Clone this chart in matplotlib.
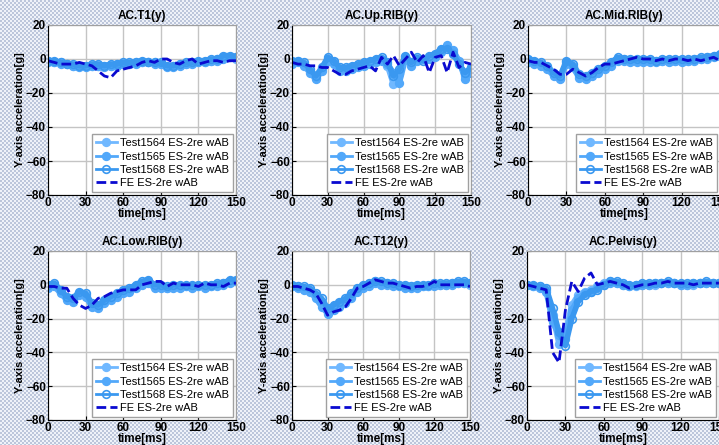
import numpy as np
import matplotlib
matplotlib.use('Agg')
from matplotlib import pyplot as plt

plt.rcParams['font.family'] = ['Liberation Sans', 'DejaVu Sans']

# tiempo en ms
t = list(range(0, 151, 5))

titles = ['AC.T1(y)', 'AC.Up.RIB(y)', 'AC.Mid.RIB(y)',
          'AC.Low.RIB(y)', 'AC.T12(y)', 'AC.Pelvis(y)']
labels = ['Test1564 ES-2re wAB', 'Test1565 ES-2re wAB',
          'Test1568 ES-2re wAB', 'FE ES-2re wAB']
xticks = [0, 30, 60, 90, 120, 150]
yticks = [-80, -60, -40, -20, 0, 20]

# AC.T1
t1_1564 = [-1, -2, -2, -3, -4, -4, -4, -4, -4, -4, -4, -3, -3, -3, -2, -2, -2, -2, -3, -4, -4, -3, -3, -2, -2, -2, -1, 0, 1, 1, 0]
t1_1565 = [-2, -2, -3, -3, -4, -5, -5, -4, -4, -5, -4, -4, -3, -3, -3, -2, -2, -3, -3, -5, -5, -4, -3, -3, -2, -2, -1, -1, 0, 1, 1]
t1_1568 = [-1, -1, -2, -3, -3, -4, -4, -3, -3, -4, -3, -3, -2, -2, -2, -1, -2, -2, -2, -4, -4, -3, -2, -2, -1, -1, 0, 0, 2, 2, 1]
t1_fe = [-1, -2, -3, -3, -3, -2, -3, -4, -7, -10, -11, -7, -6, -5, -4, -2, -1, -2, 0, 0, -2, -3, -1, 0, -3, -2, -1, -1, -2, -1, -1]

# AC.Up.RIB
up_1564 = [-2, -1, -3, -7, -11, -6, 0, -2, -6, -6, -5, -4, -3, -2, -1, 0, -4, -15, -9, 1, -3, 0, 0, 1, 2, 5, 7, 4, -2, -10, -6]
up_1565 = [-3, -2, -4, -8, -12, -7, -1, -3, -7, -7, -6, -5, -4, -3, -2, -1, -3, -8, -14, 0, -4, -1, 0, 0, 1, 4, 8, 5, -1, -12, -8]
up_1568 = [-1, -1, -2, -6, -10, -5, 1, -1, -5, -5, -4, -3, -2, -1, 0, 1, -2, -10, -6, 2, -2, 1, -1, 2, 3, 6, 6, 3, -3, -8, -5]
up_fe = [-2, -3, -3, -4, -4, -5, -5, -7, -9, -9, -7, -6, -5, -4, -7, 1, -3, 2, -4, 0, 4, -2, 2, -8, 1, 2, -8, 4, -5, -2, -3]

# AC.Mid.RIB
mid_1564 = [-1, -2, -3, -5, -9, -11, -2, -4, -10, -11, -9, -7, -5, -3, 0, 0, -1, -1, -1, -1, -1, -1, -1, -1, -1, -1, 0, 0, 1, 2, 2]
mid_1565 = [-2, -3, -4, -6, -10, -12, -3, -5, -11, -12, -10, -8, -6, -4, -1, -1, -2, -2, -2, -2, -2, -1, -2, -1, -2, -1, -1, 0, 0, 1, 2]
mid_1568 = [0, -1, -2, -4, -8, -10, -1, -3, -9, -10, -8, -6, -4, -2, 1, 0, 0, 0, 0, 0, -1, 0, 0, 0, 0, 0, 0, 1, 1, 2, 3]
mid_fe = [-1, -2, -2, -4, -6, -9, -9, -6, -8, -10, -8, -5, -3, -3, -2, -1, 0, 1, 0, 0, -1, 0, -1, 0, 0, -1, 0, -1, 0, 1, -1]

# AC.Low.RIB
low_1564 = [-1, 0, -4, -8, -9, -5, -6, -12, -13, -10, -8, -6, -4, -3, -1, 1, 2, -1, -1, -2, -1, -1, -1, -1, -1, -1, -1, 0, 1, 2, 2]
low_1565 = [-2, -1, -5, -9, -10, -6, -7, -13, -14, -11, -9, -7, -5, -4, -2, 0, 1, -2, -2, -2, -2, -2, -1, -2, -1, -2, -1, -1, 0, 1, 2]
low_1568 = [0, 1, -3, -7, -8, -4, -5, -11, -12, -9, -7, -5, -3, -2, 0, 2, 3, 0, 0, -1, 0, 0, 0, 0, 0, 0, 0, 1, 1, 3, 3]
low_fe = [-1, -1, -2, -2, -8, -12, -14, -12, -8, -7, -5, -4, -3, -3, -3, 0, 1, 2, 2, -1, 1, 0, 0, 0, -1, 1, 0, 0, -1, 1, 1]

# AC.T12
t12_1564 = [-1, -1, -2, -3, -6, -10, -16, -14, -12, -10, -7, -3, -1, 0, 2, 1, 1, 0, 0, -1, -1, -1, -1, -1, 0, 0, 0, 1, 1, 1, 0]
t12_1565 = [-1, -2, -3, -4, -8, -13, -17, -15, -13, -11, -8, -4, -2, -1, 1, 0, 0, -1, -1, -2, -2, -2, -1, -1, -1, 0, 0, 0, 1, 1, 1]
t12_1568 = [0, -1, -1, -2, -5, -8, -14, -12, -10, -8, -5, -2, 0, 1, 2, 2, 1, 1, 0, 0, -1, 0, 0, 0, 1, 1, 1, 1, 2, 2, 1]
t12_fe = [-1, -1, -2, -3, -5, -11, -18, -16, -15, -13, -8, -2, -1, 1, 3, 2, 1, 1, 0, -1, -2, -1, -1, 0, 2, 0, 0, 0, 0, 0, -1]

# AC.Pelvis
pel_1564 = [0, -1, -1, -3, -18, -35, -28, -12, -6, -4, -3, -1, 1, 2, 1, 0, -1, -1, 0, 0, 0, 1, 1, 1, 0, 0, 0, 1, 1, 1, 1]
pel_1565 = [0, -1, -2, -4, -22, -30, -32, -15, -8, -5, -4, -2, 0, 1, 1, 0, -1, 0, 0, 0, 1, 1, 1, 1, 0, 0, 1, 1, 1, 1, 1]
pel_1568 = [0, 0, -1, -2, -14, -28, -36, -20, -10, -6, -4, -3, 0, 2, 2, 1, 0, 0, 1, 1, 1, 1, 2, 1, 1, 1, 1, 1, 2, 1, 1]
pel_fe = [0, -1, -2, -3, -40, -46, -15, 2, -4, 4, 7, 0, 1, 2, 1, 0, -2, -1, 0, 0, 1, 1, 2, 1, 1, 1, 0, 1, 1, 1, 1]

data = [
    [t1_1564, t1_1565, t1_1568, t1_fe],
    [up_1564, up_1565, up_1568, up_fe],
    [mid_1564, mid_1565, mid_1568, mid_fe],
    [low_1564, low_1565, low_1568, low_fe],
    [t12_1564, t12_1565, t12_1568, t12_fe],
    [pel_1564, pel_1565, pel_1568, pel_fe],
]

# posiciones de los ejes en pixeles (izq, arriba, ancho, alto)
boxes = [(48, 25, 188, 170), (292, 25, 179, 170), (528, 25, 192, 170),
         (48, 251, 188, 169), (292, 251, 178, 169), (527, 251, 192, 169)]

W, H = 719, 445
fig = plt.figure(figsize=(W / 100, H / 100), dpi=100)

# fondo a cuadritos
yy, xx = np.mgrid[0:H, 0:W]
chk = ((xx // 2 + yy // 2) % 2).astype(float)
bg = np.zeros((H, W, 3))
c1 = np.array([0.74, 0.78, 0.86])
c2 = np.array([0.94, 0.95, 0.98])
bg[:] = c1
bg[chk == 1] = c2
fig.figimage(bg, 0, 0, zorder=-10)

test_colors = ['#70b8ff', '#52a8fa', '#3a98f0']
test_mfc = ['#70b8ff', '#52a8fa', 'none']

for k in range(6):
    x0, y0, w, h = boxes[k]
    ax = fig.add_axes([x0 / W, 1 - (y0 + h) / H, w / W, h / H])
    ax.set_facecolor('white')
    for j in range(3):
        ax.plot(t, data[k][j], '-o', color=test_colors[j], lw=4,
                ms=5.5, mfc=test_mfc[j], mec=test_colors[j], mew=1.2,
                label=labels[j])
    ax.plot(t, data[k][3], '--', color='#0a0ad0', lw=2, dashes=(3.5, 1.5),
            label=labels[3])
    ax.set_xlim(0, 150)
    ax.set_ylim(-80, 20)
    ax.set_xticks(xticks)
    ax.set_yticks(yticks)
    ax.grid(True, color='#c4c4c4', lw=1)
    ax.set_axisbelow(True)
    ax.tick_params(direction='in', length=3, labelsize=8.5, pad=1.5)
    for lab in ax.get_xticklabels() + ax.get_yticklabels():
        lab.set_fontweight('bold')
    ax.spines['left'].set_color('black')
    ax.spines['bottom'].set_color('black')
    ax.spines['top'].set_color('#a0a0a0')
    ax.spines['right'].set_color('#a0a0a0')
    ax.set_title(titles[k], fontsize=8.5, fontweight='bold', pad=4)
    ax.set_xlabel('time[ms]', fontsize=8.5, fontweight='bold', labelpad=-1)
    ax.set_ylabel('Y-axis acceleration[g]', fontsize=8, fontweight='bold',
                  labelpad=1)
    leg = ax.legend(loc='lower right', fontsize=8, handlelength=1.9,
                    handletextpad=0.3, borderpad=0.35, labelspacing=0.3,
                    fancybox=False, framealpha=1, edgecolor='#a0a0a0',
                    borderaxespad=0.25)
    leg.get_frame().set_linewidth(1)
    for ln in leg.get_lines()[:3]:
        ln.set_linewidth(2)

fig.savefig('out.png', dpi=100)
